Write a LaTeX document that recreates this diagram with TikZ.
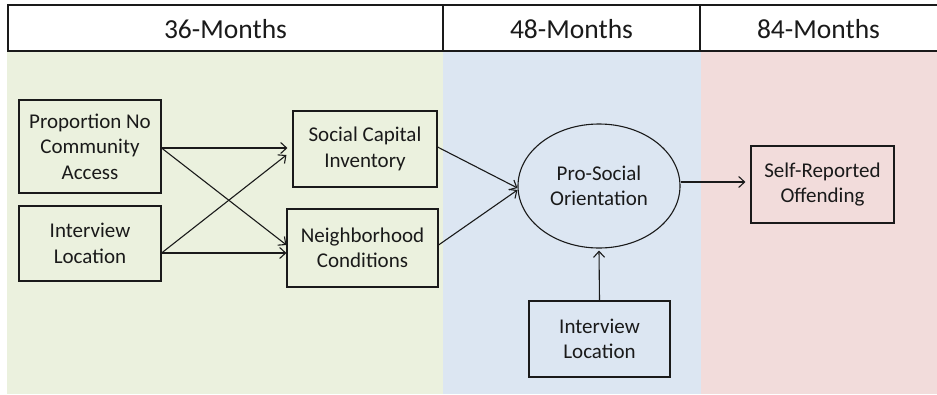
\documentclass[tikz,border=0pt]{standalone}
\usepackage{fontspec}
\setmainfont{Carlito}
\usetikzlibrary{arrows.meta,shapes.geometric,calc}

\definecolor{bandgreen}{HTML}{EBF1DE}
\definecolor{bandblue}{HTML}{DCE6F2}
\definecolor{bandpink}{HTML}{F2DCDB}
\definecolor{ink}{HTML}{1A1A1A}

\tikzset{
  varbox/.style={draw=ink, line width=1.1pt, rectangle, align=center,
    inner sep=0pt, font=\fontsize{21}{25.5}\selectfont, text=ink},
  latent/.style={draw=ink, line width=1.1pt, ellipse, align=center,
    inner sep=0pt, font=\fontsize{21}{25.5}\selectfont, text=ink},
  header/.style={font=\fontsize{27.5}{32}\selectfont, text=ink},
  path/.style={draw=ink, line width=1.1pt,
    -{Straight Barb[length=6pt,width=11pt,line width=1.1pt]}},
}

\begin{document}
\begin{tikzpicture}[x=1pt,y=-1pt]
  \useasboundingbox (0,0) rectangle (937,394);

  % wave bands
  \fill[bandgreen] (7,51) rectangle (443,394);
  \fill[bandblue]  (443,51) rectangle (701,394);
  \fill[bandpink]  (701,51) rectangle (937,394);

  % header row
  \fill[white] (8,5) rectangle (937,51);
  \draw[ink, line width=1.1pt] (937,5) -- (8,5) -- (8,51) -- (937,51);
  \draw[ink, line width=1.1pt] (443,5) -- (443,51);
  \draw[ink, line width=1.1pt] (700,5) -- (700,51);
  \node[header] (h36) at (225.5,29) {36-Months};
  \node[header] (h48) at (571.5,29) {48-Months};
  \node[header] (h84) at (818.5,29) {84-Months};

  % 36-month measures
  \node[varbox, minimum width=142pt, minimum height=93pt] (prop) at (90,146.5)
    {Proportion No\\Community\\Access};
  \node[varbox, minimum width=142pt, minimum height=75pt] (intL) at (90,243.5)
    {Interview\\Location};
  \node[varbox, minimum width=144pt, minimum height=76pt] (social) at (365,149)
    {Social Capital\\Inventory};
  \node[varbox, minimum width=151pt, minimum height=78pt] (neigh) at (362.5,248)
    {Neighborhood\\Conditions};

  % 48-month measures
  \node[latent, minimum width=162pt, minimum height=124pt] (orient) at (599,186)
    {Pro-Social\\Orientation};
  \node[varbox, minimum width=141pt, minimum height=76pt] (intB) at (599.5,339)
    {Interview\\Location};

  % 84-month outcome
  \node[varbox, minimum width=143pt, minimum height=77pt] (self) at (822.5,184.5)
    {Self-Reported\\Offending};

  % connector end points
  \coordinate (pOut) at ([yshift=-1.5pt]prop.east);
  \coordinate (iOut) at ([yshift=-9.5pt]intL.east);
  \coordinate (sInA) at ([xshift=-5pt,yshift=1pt]social.west);
  \coordinate (sInB) at ([xshift=-6pt,yshift=-6pt]social.west);
  \coordinate (nInA) at ([yshift=3pt]neigh.west);
  \coordinate (nInB) at ([yshift=-5pt]neigh.west);
  \coordinate (sOut) at ([yshift=2pt]social.east);
  \coordinate (nOut) at ([yshift=3pt]neigh.east);
  \coordinate (oInA) at ([yshift=-2pt]orient.west);
  \coordinate (oInB) at ([yshift=-4pt]orient.west);
  \coordinate (oOut) at ([yshift=4pt]orient.east);
  \coordinate (fIn)  at ([xshift=-5pt]self.west |- oOut);

  % structural paths
  \draw[path] (pOut) -- (sInA);
  \draw[path] (pOut) -- (nInA);
  \draw[path] (iOut) -- (sInB);
  \draw[path] (iOut) -- (nInB |- iOut);
  \draw[path] (sOut) -- (oInA);
  \draw[path] (nOut) -- (oInB);
  \draw[path] (oOut) -- (fIn);
  \draw[path] (intB.north) -- ([yshift=-2pt]orient.south);
\end{tikzpicture}
\end{document}
